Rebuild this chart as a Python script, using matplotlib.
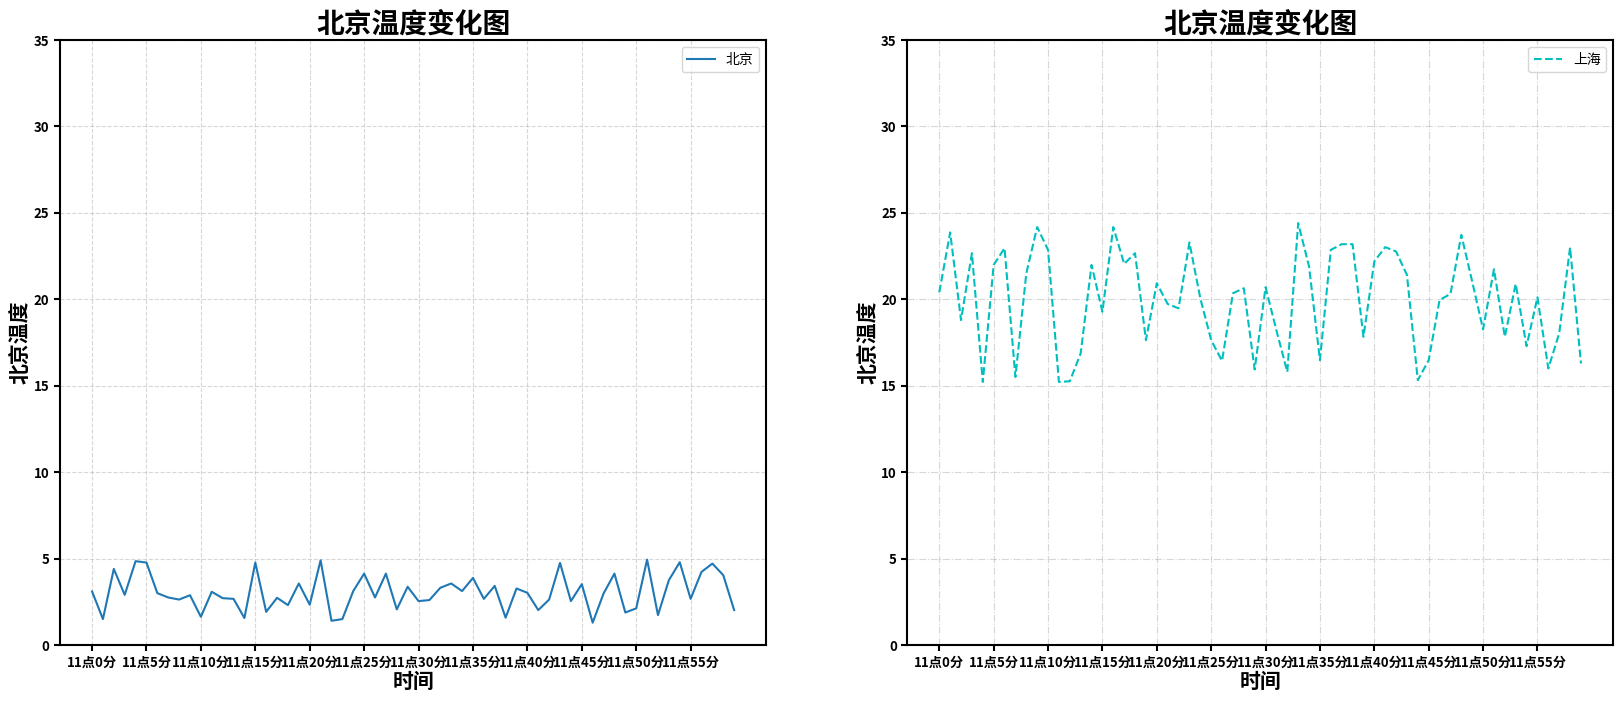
import matplotlib
matplotlib.use("Agg")
import matplotlib.pyplot as plt

plt.rcParams['font.family'] = ['Noto Sans CJK SC', 'DejaVu Sans']
plt.rcParams['axes.unicode_minus'] = False

# minutes 0..59
x = list(range(60))
x_ticks = x[::5]
x_labels = ["11点{}分".format(i) for i in x_ticks]
y_ticks = list(range(0, 40, 5))

# Beijing temperature
y_beijing = [3.1, 1.5, 4.4, 2.9, 4.85, 4.77, 3.0, 2.75, 2.63, 2.88,
             1.63, 3.08, 2.71, 2.67, 1.56, 4.77, 1.92, 2.73, 2.31, 3.56,
             2.33, 4.9, 1.4, 1.5, 3.12, 4.13, 2.75, 4.13, 2.06, 3.37,
             2.54, 2.6, 3.31, 3.56, 3.12, 3.88, 2.67, 3.42, 1.58, 3.27,
             3.02, 2.02, 2.63, 4.75, 2.54, 3.52, 1.29, 2.98, 4.13, 1.88,
             2.12, 4.94, 1.73, 3.75, 4.79, 2.67, 4.23, 4.71, 4.04, 2.02]

# Shanghai temperature
y_shanghai = [20.4, 23.87, 18.8, 22.67, 15.22, 21.99, 22.96, 15.51, 21.5, 24.18,
              22.86, 15.22, 15.26, 16.87, 21.99, 19.28, 24.18, 22.05, 22.67, 17.64,
              20.93, 19.73, 19.48, 23.29, 20.06, 17.64, 16.44, 20.35, 20.64, 15.94,
              20.7, 18.2, 15.8, 24.41, 21.9, 16.48, 22.86, 23.19, 23.19, 17.83,
              22.19, 23.02, 22.77, 21.41, 15.32, 16.48, 19.96, 20.31, 23.73, 21.03,
              18.26, 21.74, 17.83, 20.89, 17.29, 20.12, 16.0, 18.03, 23.0, 16.29]

fig = plt.figure(figsize=(16.2, 7.03), dpi=100)
ax1 = fig.add_axes([0.037, 0.0825, 0.436, 0.8605])
ax2 = fig.add_axes([0.560, 0.0825, 0.4357, 0.8605])

ax1.plot(x, y_beijing, color='#1f77b4', linestyle='-', linewidth=1.5, label="北京")
ax2.plot(x, y_shanghai, color='c', linestyle='--', linewidth=1.5, label="上海")

for ax, gstyle in [(ax1, '--'), (ax2, '-.')]:
    ax.set_xticks(x_ticks)
    ax.set_xticklabels(x_labels, fontsize=9.5, fontweight='bold')
    ax.set_yticks(y_ticks)
    ax.set_yticklabels([str(v) for v in y_ticks], fontsize=9.5, fontweight='bold')
    ax.set_ylim(0, 35)
    ax.set_xlabel("时间", fontsize=15, fontweight='bold', labelpad=1)
    ax.set_ylabel("北京温度", fontsize=15, fontweight='bold', labelpad=2)
    ax.set_title("北京温度变化图", fontsize=20, fontweight='bold', pad=2)
    ax.grid(True, linestyle=gstyle, alpha=0.5)
    ax.legend(loc='upper right', fontsize=10)
    for s in ax.spines.values():
        s.set_linewidth(1.5)
    ax.tick_params(width=1.5, length=4)

fig.savefig("out.png", dpi=100)
